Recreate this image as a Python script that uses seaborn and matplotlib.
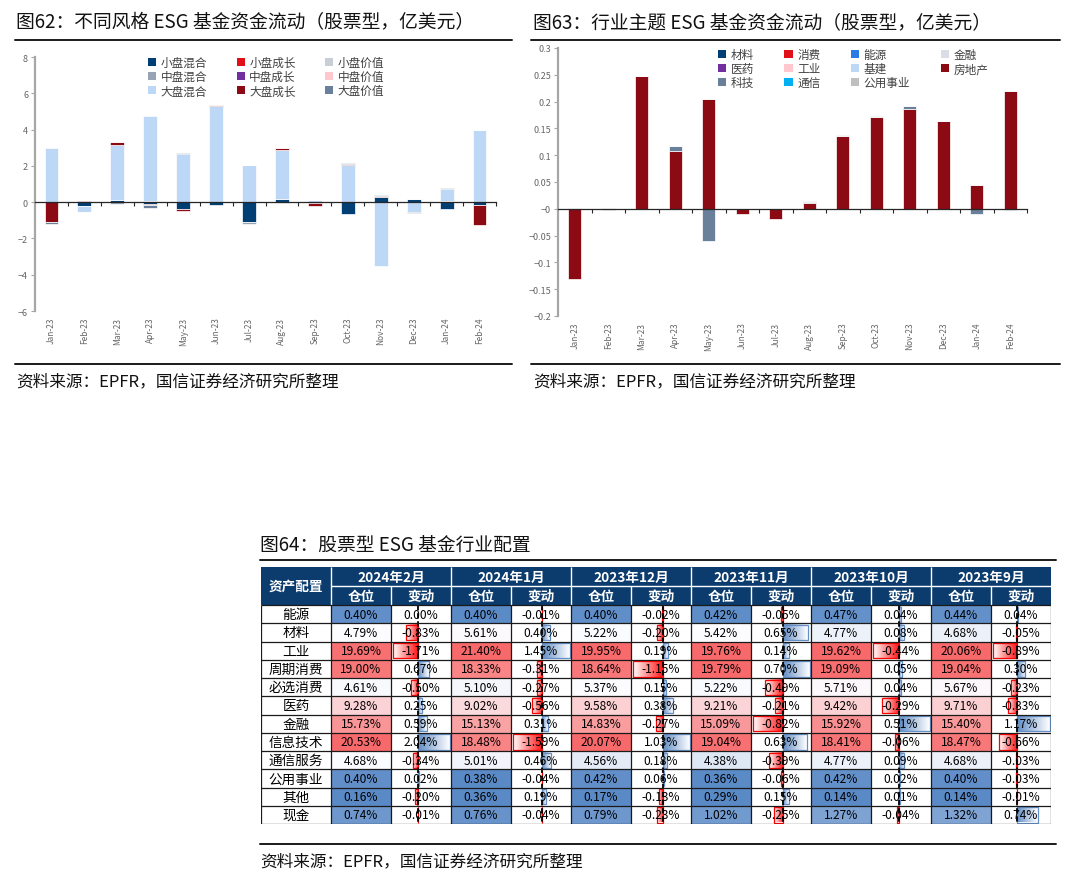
import numpy as np
import pandas as pd
import seaborn as sns
import matplotlib.pyplot as plt
from matplotlib.patches import Patch, Rectangle
from matplotlib.lines import Line2D
from matplotlib.colors import TwoSlopeNorm, LinearSegmentedColormap

# ---------------- data ----------------
months = ["Jan-23", "Feb-23", "Mar-23", "Apr-23", "May-23", "Jun-23", "Jul-23",
          "Aug-23", "Sep-23", "Oct-23", "Nov-23", "Dec-23", "Jan-24", "Feb-24"]

# fig 62: style fund flows (USD 100m)
style_names = ["小盘混合", "小盘成长", "小盘价值", "中盘混合", "中盘成长", "中盘价值",
               "大盘混合", "大盘成长", "大盘价值"]
small_blend = [0, -0.24, 0.11, -0.08, -0.40, -0.18, -1.10, 0.16, 0, -0.65, 0.27, 0.18, -0.37, -0.13]
small_growth = [0] * 14
small_value = [0] * 14
mid_blend = [0, 0, -0.12, 0.06, 0, 0, -0.10, -0.05, -0.07, 0, 0, 0, 0.08, 0]
mid_growth = [0] * 14
mid_value = [0] * 14
large_blend = [3.00, -0.28, 3.03, 4.70, 2.64, 5.28, 2.05, 2.70, 0.13, 2.03, -3.50, -0.55, 0.62, 3.97]
large_growth = [-1.12, 0.06, 0.17, -0.10, -0.09, 0.05, 0, 0.15, -0.13, 0.07, 0.07, 0, 0.05, -1.15]
large_value = [-0.09, -0.05, 0, -0.17, 0.07, 0.05, 0, 0, 0, 0.06, 0.05, -0.06, 0.05, 0.03]
style_series = [small_blend, small_growth, small_value, mid_blend, mid_growth, mid_value,
                large_blend, large_growth, large_value]
style_colors = ["#003F73", "#E0101A", "#C9CED6", "#98A3B3", "#7030A0", "#FFC7CE",
                "#BDD7F7", "#8B0A14", "#6A7F99"]

# fig 63: sector theme fund flows
sector_names = ["材料", "消费", "能源", "金融", "医药", "工业", "基建", "房地产",
                "科技", "通信", "公用事业"]
real_estate = [-0.131, 0.002, 0.248, 0.107, 0.205, -0.010, -0.019, 0.010, 0.135, 0.171,
               0.187, 0.163, 0.045, 0.219]
tech = [0.002, -0.002, 0, 0.010, -0.061, 0, 0, 0.003, 0, 0, 0.004, 0, -0.010, -0.002]
utilities = [0, 0, 0, 0, 0, 0, 0, 0.002, 0.002, 0.002, 0, 0, 0, 0]
zeros = [0] * 14
sector_series = [zeros, zeros, zeros, zeros, zeros, zeros, zeros, real_estate, tech,
                 zeros, utilities]
sector_colors = ["#003F73", "#E0101A", "#2B7BE4", "#D9DEE6", "#7030A0", "#FFC7CE",
                 "#BDD7F7", "#8B0A14", "#6A7F99", "#00B0F0", "#BFBFBF"]

# fig 64: industry allocation table
table_months = ["2024年2月", "2024年1月", "2023年12月", "2023年11月", "2023年10月", "2023年9月"]
table_rows = ["能源", "材料", "工业", "周期消费", "必选消费", "医药", "金融", "信息技术",
              "通信服务", "公用事业", "其他", "现金"]
position = [
    [0.40, 4.79, 19.69, 19.00, 4.61, 9.28, 15.73, 20.53, 4.68, 0.40, 0.16, 0.74],
    [0.40, 5.61, 21.40, 18.33, 5.10, 9.02, 15.13, 18.48, 5.01, 0.38, 0.36, 0.76],
    [0.40, 5.22, 19.95, 18.64, 5.37, 9.58, 14.83, 20.07, 4.56, 0.42, 0.17, 0.79],
    [0.42, 5.42, 19.76, 19.79, 5.22, 9.21, 15.09, 19.04, 4.38, 0.36, 0.29, 1.02],
    [0.47, 4.77, 19.62, 19.09, 5.71, 9.42, 15.92, 18.41, 4.77, 0.42, 0.14, 1.27],
    [0.44, 4.68, 20.06, 19.04, 5.67, 9.71, 15.40, 18.47, 4.68, 0.40, 0.14, 1.32],
]
change = [
    [0.00, -0.83, -1.71, 0.67, -0.50, 0.25, 0.59, 2.04, -0.34, 0.02, -0.20, -0.01],
    [-0.01, 0.40, 1.45, -0.31, -0.27, -0.56, 0.31, -1.59, 0.46, -0.04, 0.19, -0.04],
    [-0.02, -0.20, 0.19, -1.15, 0.15, 0.38, -0.27, 1.03, 0.18, 0.06, -0.13, -0.23],
    [-0.05, 0.65, 0.14, 0.70, -0.49, -0.21, -0.82, 0.63, -0.39, -0.06, 0.15, -0.25],
    [0.04, 0.08, -0.44, 0.05, 0.04, -0.29, 0.51, -0.06, 0.09, 0.02, 0.01, -0.04],
    [0.04, -0.05, -0.89, 0.30, -0.23, -0.33, 1.17, -0.66, -0.03, -0.03, -0.01, 0.74],
]

# ---------------- style ----------------
sns.set_theme(style="white")
plt.rcParams["font.family"] = ["Noto Sans CJK SC", "DejaVu Sans"]

W, H = 1075, 895
fig = plt.figure(figsize=(W / 100, H / 100), dpi=100)


def px_rect(x0, y0, x1, y1):
    return [x0 / W, 1 - y1 / H, (x1 - x0) / W, (y1 - y0) / H]


def fig_line(x0, x1, y):
    fig.add_artist(Line2D([x0 / W, x1 / W], [1 - y / H, 1 - y / H], color="#1a1a1a", lw=1.4))


def fig_text(x, y, s, size):
    fig.text(x / W, 1 - y / H, s, fontsize=size, va="center", ha="left", color="#111111")


def stacked_bars(ax, series, colors, width):
    pos = np.zeros(len(months))
    neg = np.zeros(len(months))
    for vals, c in zip(series, colors):
        vals = np.asarray(vals, dtype=float)
        if not np.any(vals):
            continue
        bottom = np.where(vals >= 0, pos, neg)
        df = pd.DataFrame({"month": months, "value": vals})
        sns.barplot(data=df, x="month", y="value", order=months, bottom=bottom,
                    color=c, saturation=1, width=width, errorbar=None,
                    edgecolor="white", linewidth=0.5, ax=ax)
        pos += np.where(vals > 0, vals, 0)
        neg += np.where(vals < 0, vals, 0)


def style_chart(ax, ylim, yticks):
    n = len(months)
    ax.set_xlim(-0.5, n - 0.5)
    ax.set_ylim(*ylim)
    ax.set_xlabel("")
    ax.set_ylabel("")
    ax.set_yticks(yticks)
    ax.set_yticklabels([f"{t:g}".replace("-", "\u2212") for t in yticks])
    ax.spines["top"].set_visible(False)
    ax.spines["right"].set_visible(False)
    ax.spines["left"].set_color("#A6A6A6")
    ax.spines["left"].set_linewidth(1.6)
    ax.spines["bottom"].set_position(("data", 0))
    ax.spines["bottom"].set_color("#262626")
    ax.spines["bottom"].set_linewidth(0.9)
    ax.tick_params(axis="y", left=True, length=3, width=0.8, color="#A6A6A6",
                   labelsize=6.5, labelcolor="#666666", pad=2)
    ax.set_xticks(np.arange(n) + 0.5)
    ax.tick_params(axis="x", bottom=True, length=3, width=0.8, color="#262626",
                   direction="out", labelbottom=False)
    sec = ax.secondary_xaxis(0)
    sec.set_xticks(np.arange(n), labels=months)
    sec.tick_params(length=0, pad=4, labelsize=6, labelcolor="#666666", labelrotation=90)
    sec.spines["bottom"].set_visible(False)


def legend_order(names, colors, ncol):
    nrow = int(np.ceil(len(names) / ncol))
    idx = []
    for c in range(ncol):
        for r in range(nrow):
            k = r * ncol + c
            if k < len(names):
                idx.append(k)
    return [Patch(facecolor=colors[k], edgecolor="none", label=names[k]) for k in idx]


# ---------------- fig 62 ----------------
fig_text(16, 23, "图62：不同风格 ESG 基金资金流动（股票型，亿美元）", 13.5)
fig_line(15, 512, 41)
ax1 = fig.add_axes(px_rect(35, 58, 496, 312))
stacked_bars(ax1, style_series, style_colors, 0.42)
style_chart(ax1, (-6, 8), np.arange(-6, 9, 2))
ax1.legend(handles=legend_order(style_names, style_colors, 3), ncol=3, loc="upper left",
           bbox_to_anchor=(148 / W, 1 - 57 / H), bbox_transform=fig.transFigure,
           frameon=False, fontsize=8.4, handlelength=0.7, handleheight=0.7,
           handletextpad=0.4, columnspacing=2.5, labelspacing=0.1, borderpad=0,
           borderaxespad=0, labelcolor="#404040")
fig_line(15, 512, 365)
fig_text(16, 382, "资料来源：EPFR，国信证券经济研究所整理", 12)

# ---------------- fig 63 ----------------
fig_text(533, 23, "图63：行业主题 ESG 基金资金流动（股票型，亿美元）", 13.5)
fig_line(531, 1060, 41)
ax2 = fig.add_axes(px_rect(558, 49, 1027, 317))
stacked_bars(ax2, sector_series, sector_colors, 0.4)
style_chart(ax2, (-0.2, 0.3), np.round(np.arange(-0.2, 0.31, 0.05), 2))
ax2.legend(handles=legend_order(sector_names, sector_colors, 4), ncol=4, loc="upper left",
           bbox_to_anchor=(718 / W, 1 - 49 / H), bbox_transform=fig.transFigure,
           frameon=False, fontsize=8.4, handlelength=0.7, handleheight=0.7,
           handletextpad=0.4, columnspacing=2.6, labelspacing=0.1, borderpad=0,
           borderaxespad=0, labelcolor="#404040")
fig_line(531, 1060, 365)
fig_text(533, 382, "资料来源：EPFR，国信证券经济研究所整理", 12)

# ---------------- fig 64 table ----------------
fig_text(260, 545, "图64：股票型 ESG 基金行业配置", 13.5)
fig_line(260, 1056, 561)
fig_line(260, 1056, 845)
fig_text(260, 862, "资料来源：EPFR，国信证券经济研究所整理", 12)

first_w, cell_w = 70, 60
head_h, row_h = 19, 18.25
total_w = first_w + 2 * cell_w * len(table_months)
total_h = 2 * head_h + row_h * len(table_rows)
tax = fig.add_axes(px_rect(261, 568, 261 + total_w, 568 + total_h))
tax.set_xlim(0, total_w)
tax.set_ylim(total_h, 0)
tax.axis("off")

navy = "#0C3C6E"
tax.add_patch(Rectangle((0, 0), total_w, 2 * head_h, facecolor=navy, edgecolor="none"))
hdr = dict(color="white", fontsize=9.8, fontweight="bold", ha="center", va="center")
tax.text(first_w / 2, head_h, "资产配置", **hdr)

heat_cmap = sns.blend_palette(["#5A8AC6", "#FCFCFF", "#F8696B"], as_cmap=True)
red_grad = LinearSegmentedColormap.from_list("rg", ["#FF1010", "#FFFFFF"])
blue_grad = LinearSegmentedColormap.from_list("bg", ["#638EC6", "#FFFFFF"])
num = dict(fontsize=8.6, ha="center", va="center", color="black", zorder=6)
top = 2 * head_h

for j, m in enumerate(table_months):
    x0 = first_w + j * 2 * cell_w
    tax.text(x0 + cell_w, head_h / 2, m, **hdr)
    tax.text(x0 + cell_w / 2, head_h * 1.5, "仓位", **hdr)
    tax.text(x0 + cell_w * 1.5, head_h * 1.5, "变动", **hdr)
    tax.vlines(x0, 0, top, colors="white", lw=1)
    tax.vlines(x0 + cell_w, head_h, top, colors="white", lw=1)
    tax.hlines(head_h, x0, x0 + 2 * cell_w, colors="white", lw=1)

    pos_vals = np.array(position[j])
    norm = TwoSlopeNorm(vmin=pos_vals.min(), vcenter=np.median(pos_vals), vmax=pos_vals.max())
    ch = np.array(change[j])
    lo, hi = min(ch.min(), 0), max(ch.max(), 0)
    span = hi - lo
    pad = 1.5
    inner = cell_w - 2 * pad
    xc = x0 + cell_w
    axis_x = xc + pad + inner * (-lo) / span

    for i in range(len(table_rows)):
        y0 = top + i * row_h
        v = pos_vals[i]
        tax.add_patch(Rectangle((x0, y0), cell_w, row_h, facecolor=heat_cmap(norm(v)),
                                edgecolor="none", zorder=1))
        tax.text(x0 + cell_w / 2, y0 + row_h / 2, f"{v:.2f}%", **num)

        c = ch[i]
        length = abs(c) / span * inner
        if length > 0:
            yb, yt = y0 + 1.5, y0 + row_h - 1.5
            if c > 0:
                left, right, cm, grad = axis_x, axis_x + length, blue_grad, np.linspace(0, 1, 64)
                edge = "#638EC6"
            else:
                left, right, cm, grad = axis_x - length, axis_x, red_grad, np.linspace(1, 0, 64)
                edge = "#FF0000"
            tax.imshow(grad[None, :], cmap=cm, vmin=0, vmax=1, aspect="auto",
                       extent=(left, right, yt, yb), zorder=2, interpolation="bilinear")
            tax.add_patch(Rectangle((left, yb), right - left, yt - yb, facecolor="none",
                                    edgecolor=edge, lw=0.9, zorder=3))
        tax.text(xc + cell_w / 2, y0 + row_h / 2, f"{c:.2f}%", **num)

    tax.vlines(axis_x, top, total_h, colors="black", lw=1.3, linestyles=(0, (3, 1.5)), zorder=4)

for i, r in enumerate(table_rows):
    tax.text(first_w / 2, top + (i + 0.5) * row_h, r, fontsize=9.8, ha="center", va="center",
             color="black", zorder=6)

# grid lines of the body
for i in range(len(table_rows) + 1):
    tax.hlines(top + i * row_h, 0, total_w, colors="#1a1a1a", lw=0.9, zorder=5)
col_edges = [0, first_w] + [first_w + k * cell_w for k in range(1, 2 * len(table_months) + 1)]
tax.vlines(col_edges, top, total_h, colors="#1a1a1a", lw=0.9, zorder=5)
tax.set_xlim(0, total_w)
tax.set_ylim(total_h, 0)

fig.savefig("out.png", dpi=100)
